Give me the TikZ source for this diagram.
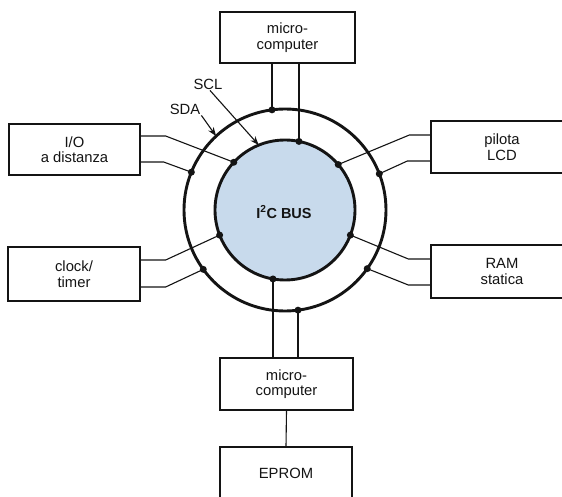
\documentclass[tikz,border=0pt]{standalone}
\usepackage{fontspec}
\setmainfont{Liberation Sans}
\usetikzlibrary{arrows.meta}
\definecolor{busblue}{RGB}{200,218,236}
\definecolor{ink}{RGB}{20,20,20}
\begin{document}
\begin{tikzpicture}[x=1pt,y=-1pt,
  box/.style={draw=ink, line width=1.3pt, align=center, inner sep=0pt, text=ink,
              font=\fontsize{14.8}{15.5}\selectfont},
  wire/.style={draw=ink, line width=1.1pt},
  ring/.style={draw=ink, line width=2.9pt},
  dot/.style={circle, fill=ink, inner sep=0pt, minimum size=7pt},
  lbl/.style={inner sep=1pt, text=ink, font=\fontsize{14.8}{15.5}\selectfont},
  pointer/.style={draw=ink, line width=1.1pt, -{Stealth[length=9pt,width=6.5pt]}},
]
\useasboundingbox (0,0) rectangle (562,497);
\clip (0,0) rectangle (562,497);
\fill[white] (0,0) rectangle (562,497);

% bus rings
\coordinate (C) at (285,210);
\fill[busblue] (C) circle[radius=70];
\draw[ring] (C) circle[radius=70];
\draw[ring] (C) circle[radius=101];
\node[font=\bfseries\fontsize{14.5}{15}\selectfont, text=ink] (bus) at (284,212) {I\textsuperscript{2}C BUS};

% connection points
\path (C) ++(262.6:101) coordinate (tO);
\path (C) ++(281.5:70)  coordinate (tI);
\path (C) ++(99.9:70)   coordinate (bI);
\path (C) ++(82.6:101)  coordinate (bO);
\path (C) ++(223:70)    coordinate (ioI);
\path (C) ++(202:101)   coordinate (ioO);
\path (C) ++(-40.5:70)  coordinate (lcdI);
\path (C) ++(-21:101)   coordinate (lcdO);
\path (C) ++(159:70)    coordinate (clkI);
\path (C) ++(144:101)   coordinate (clkO);
\path (C) ++(21:70)     coordinate (ramI);
\path (C) ++(35.5:101)  coordinate (ramO);
\path (C) ++(248:70)    coordinate (sclT);
\path (C) ++(227:101)   coordinate (sdaT);

% boxes
\node[box, minimum width=135pt, minimum height=51pt] (tmc) at (287.5,37.5) {micro-\\computer};
\node[box, minimum width=133pt, minimum height=52pt] (bmc) at (286.5,384) {micro-\\computer};
\node[box, minimum width=132pt, minimum height=52pt] (eprom) at (286,473) {EPROM};
\node[box, minimum width=131pt, minimum height=51pt] (io) at (74.5,149.5) {I/O\\a distanza};
\node[box, minimum width=132pt, minimum height=54pt] (clk) at (74,274) {clock/\\timer};
\node[box, minimum width=142pt, minimum height=52pt] (lcd) at (502,147) {pilota\\LCD};
\node[box, minimum width=142pt, minimum height=53pt] (ram) at (502,271.5) {RAM\\statica};

% wires
\draw[wire] (tO |- tmc.south) -- (tO);
\draw[wire] (tI |- tmc.south) -- (tI);
\draw[wire] (bI |- bmc.north) -- (bI);
\draw[wire] (bO |- bmc.north) -- (bO);
\draw[wire] (bmc.south) -- (eprom.north);

\draw[wire] ([yshift=13.5pt]io.east) -- ++(25,0) -- (ioI);
\draw[wire] ([yshift=-12.5pt]io.east) -- ++(23,0) -- (ioO);
\draw[wire] ([yshift=14pt]clk.east) -- ++(25,0) -- (clkI);
\draw[wire] ([yshift=-13pt]clk.east) -- ++(25,0) -- (clkO);
\draw[wire] ([yshift=12pt]lcd.west) -- ++(-21,0) -- (lcdI);
\draw[wire] ([yshift=-14pt]lcd.west) -- ++(-23,0) -- (lcdO);
\draw[wire] ([yshift=12.5pt]ram.west) -- ++(-22,0) -- (ramI);
\draw[wire] ([yshift=-13.5pt]ram.west) -- ++(-22,0) -- (ramO);

% junction dots
\foreach \p in {tO,tI,bI,bO,ioI,ioO,lcdI,lcdO,clkI,clkO,ramI,ramO}
  \node[dot] at (\p) {};

% labels
\node[lbl] (scl) at (208,84) {SCL};
\node[lbl] (sda) at (185,109) {SDA};
\draw[pointer] ([xshift=2pt]scl.south) -- (sclT);
\draw[pointer] (sda.south east) -- (sdaT);
\end{tikzpicture}
\end{document}
